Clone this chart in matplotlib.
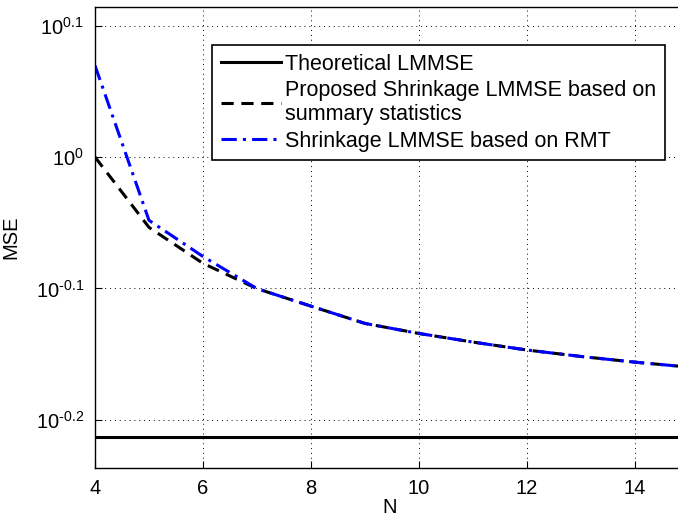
import matplotlib
matplotlib.use("Agg")
import matplotlib.pyplot as plt
import numpy as np

plt.rcParams["font.family"] = ["Liberation Sans", "DejaVu Sans"]
plt.rcParams["mathtext.fontset"] = "custom"
plt.rcParams["mathtext.rm"] = "Liberation Sans"
plt.rcParams["mathtext.it"] = "Liberation Sans"
plt.rcParams["mathtext.default"] = "regular"

# values
N = [4, 5, 6, 7, 8, 9, 10, 11, 12, 13, 14, 15]
theoretical = [0.612] * len(N)
proposed = [1.000, 0.884, 0.830, 0.794, 0.770, 0.747, 0.734, 0.723, 0.713, 0.705, 0.698, 0.692]
rmt = [1.174, 0.895, 0.840, 0.794, 0.770, 0.747, 0.734, 0.723, 0.713, 0.705, 0.698, 0.692]

labels = ["Theoretical LMMSE",
          "Proposed Shrinkage LMMSE based on\nsummary statistics",
          "Shrinkage LMMSE based on RMT"]

x_ticks = [4, 6, 8, 10, 12, 14]
y_exps = [-0.2, -0.1, 0, 0.1]
y_exp_text = ["-0.2", "-0.1", "0", "0.1"]

fig = plt.figure(figsize=(6.78, 5.19), dpi=100)
ax = fig.add_axes([0.1401, 0.0988, 0.8602, 0.8877])

ax.plot(N, theoretical, color="black", lw=2.2, label=labels[0])
ax.plot(N, proposed, color="black", lw=2.2, linestyle=(0, (4, 2.5)), label=labels[1])
ax.plot(N, rmt, color="#0000ff", lw=2.2, linestyle=(0, (5, 2, 1, 2)), label=labels[2])

ax.set_yscale("log")
ax.set_xlim(4, 14.8)
ax.set_ylim(10 ** -0.2365, 10 ** 0.1142)
ax.set_xticks(x_ticks)
ax.set_xticklabels([str(t) for t in x_ticks])
ax.set_yticks([10 ** e for e in y_exps])
ax.set_yticklabels([r"$10^{\text{%s}}$" % t for t in y_exp_text])
ax.yaxis.set_minor_locator(matplotlib.ticker.NullLocator())

ax.tick_params(direction="in", length=5, width=0.8, labelsize=14.5)
ax.tick_params(axis="x", pad=8)
ax.tick_params(axis="y", pad=8)
ax.grid(True, linestyle=(0, (1, 4)), color="black", linewidth=0.7)
ax.spines["right"].set_visible(False)
for s in ["left", "bottom", "top"]:
    ax.spines[s].set_linewidth(1.0)

ax.set_xlabel("N", fontsize=14.5)
ax.set_ylabel("MSE", fontsize=14.5)
ax.xaxis.set_label_coords(0.506, -0.066)
ax.yaxis.set_label_coords(-0.128, 0.5)

leg = ax.legend(loc="upper left", bbox_to_anchor=(0.2007, 0.9175),
                borderaxespad=0, fontsize=15.5, frameon=True, fancybox=False,
                edgecolor="black", framealpha=1, handlelength=2.8,
                handletextpad=0.2, borderpad=0.4, labelspacing=0.25)
leg.get_frame().set_linewidth(1.2)

fig.savefig("out.png", dpi=100)
